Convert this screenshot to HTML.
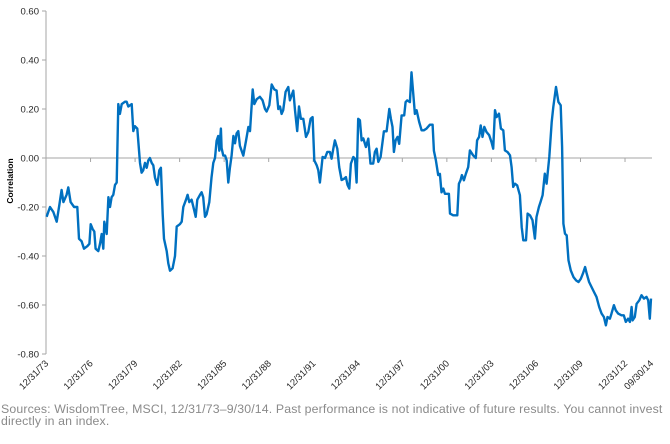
<!DOCTYPE html>
<html><head><meta charset="utf-8">
<style>
body{margin:0;background:#fff;width:670px;height:444px;overflow:hidden;font-family:"Liberation Sans",sans-serif}
svg text{font-family:"Liberation Sans",sans-serif}
.foot{position:absolute;left:1px;top:403px;font-size:12.3px;color:#8a8a8a;line-height:12px;letter-spacing:0.15px;white-space:nowrap}
</style></head>
<body>
<svg id="chart" width="670" height="444" style="position:absolute;left:0;top:0"></svg>
<div class="foot">Sources: WisdomTree, MSCI, 12/31/73–9/30/14. Past performance is not indicative of future results. You cannot invest<br>directly in an index.</div>
<script>
// t = years since 12/31/73
const times=[0.04,0.27,0.49,0.72,0.90,1.05,1.17,1.39,1.50,1.66,1.89,2.11,2.22,2.40,2.56,2.78,2.92,3.01,3.14,3.25,3.34,3.52,3.64,3.75,3.86,3.93,4.09,4.20,4.31,4.42,4.53,4.65,4.76,4.87,4.98,5.10,5.32,5.43,5.54,5.77,5.88,5.99,6.15,6.33,6.44,6.55,6.67,6.78,6.89,7.00,7.12,7.23,7.34,7.50,7.63,7.74,7.86,7.95,8.13,8.24,8.35,8.53,8.69,8.80,9.02,9.14,9.25,9.43,9.54,9.65,9.81,9.97,10.08,10.19,10.37,10.48,10.59,10.71,10.82,11.00,11.15,11.27,11.38,11.49,11.60,11.67,11.78,11.83,11.94,12.06,12.17,12.28,12.39,12.50,12.62,12.73,12.84,12.95,13.06,
13.29,13.47,13.63,13.74,13.92,14.03,14.19,14.41,14.59,14.75,14.86,15.04,15.20,15.38,15.53,15.65,15.76,15.87,15.98,16.14,16.32,16.43,16.66,16.77,16.92,17.04,17.17,17.33,17.51,17.67,17.82,17.96,18.07,18.23,18.34,18.45,18.63,18.79,18.95,19.12,19.24,19.35,19.46,19.62,19.75,19.91,20.07,20.20,20.31,20.43,20.54,20.70,20.81,20.92,21.03,21.14,21.26,21.37,21.55,21.71,21.86,22.04,22.15,22.27,22.38,22.54,22.65,22.76,22.94,23.12,23.23,23.34,23.43,23.55,23.68,23.79,23.95,24.13,24.22,24.33,24.51,24.62,24.74,24.85,24.96,25.14,25.30,25.45,25.63,25.86,26.04,26.13,26.26,26.42,26.53,26.64,26.76,26.87,26.98,27.14,
27.21,27.43,27.70,27.81,27.92,28.01,28.15,28.28,28.44,28.55,28.77,28.95,29.04,29.17,29.28,29.40,29.52,29.67,29.85,30.01,30.12,30.24,30.35,30.51,30.64,30.80,30.91,31.09,31.25,31.36,31.47,31.59,31.74,31.92,32.04,32.15,32.33,32.44,32.60,32.77,32.93,33.04,33.20,33.31,33.45,33.60,33.72,33.90,34.06,34.17,34.35,34.51,34.67,34.76,34.85,34.96,35.07,35.19,35.35,35.53,35.71,35.87,36.02,36.16,36.31,36.42,36.58,36.75,36.91,37.08,37.26,37.42,37.58,37.71,37.82,37.98,38.09,38.25,38.38,38.54,38.76,38.92,39.05,39.21,39.33,39.44,39.51,39.66,39.78,39.96,40.11,40.27,40.45,40.56,40.67,40.75];
const correlation=[-0.24,-0.20,-0.22,-0.26,-0.19,-0.13,-0.18,-0.15,-0.12,-0.18,-0.20,-0.20,-0.33,-0.34,-0.37,-0.36,-0.35,-0.27,-0.29,-0.30,-0.37,-0.38,-0.35,-0.31,-0.37,-0.26,-0.31,-0.16,-0.20,-0.16,-0.15,-0.11,-0.10,0.22,0.18,0.22,0.23,0.23,0.21,0.22,0.11,0.13,0.12,-0.02,-0.06,-0.05,-0.02,-0.04,-0.01,0.00,-0.02,-0.03,-0.08,-0.11,-0.05,-0.04,-0.23,-0.33,-0.38,-0.43,-0.46,-0.45,-0.40,-0.28,-0.27,-0.26,-0.20,-0.17,-0.15,-0.18,-0.17,-0.21,-0.24,-0.17,-0.15,-0.14,-0.16,-0.24,-0.23,-0.18,-0.08,-0.02,0.00,0.07,0.09,0.03,0.12,0.04,0.01,0.01,-0.01,-0.10,-0.04,0.01,0.09,0.06,0.10,0.11,0.05,
0.01,0.07,0.127,0.11,0.28,0.22,0.24,0.25,0.235,0.20,0.19,0.215,0.30,0.28,0.275,0.20,0.21,0.18,0.195,0.27,0.29,0.235,0.275,0.195,0.11,0.21,0.16,0.16,0.086,0.106,0.16,0.167,-0.01,-0.03,-0.05,-0.10,0.004,0.0,0.025,0.025,-0.003,0.038,0.072,0.038,-0.037,-0.09,-0.085,-0.078,-0.11,-0.125,-0.023,0.004,-0.003,-0.10,0.16,0.154,0.072,0.08,0.045,0.079,-0.023,-0.023,0.025,0.038,-0.016,0.004,0.058,0.109,0.109,0.20,0.16,0.127,0.025,0.072,0.086,0.058,0.174,0.174,0.228,0.235,0.228,0.35,0.26,0.18,0.195,0.147,0.113,0.113,0.12,0.136,0.136,0.03,-0.01,-0.07,-0.065,-0.14,-0.125,-0.146,-0.146,-0.146,
-0.227,-0.234,-0.234,-0.105,-0.091,-0.07,-0.091,-0.064,-0.037,0.031,0.011,0.0,0.072,0.086,0.133,0.086,0.127,0.106,0.093,0.065,0.038,0.195,0.167,0.181,0.12,0.113,0.031,0.024,0.011,-0.037,-0.118,-0.105,-0.112,-0.152,-0.282,-0.336,-0.336,-0.227,-0.234,-0.254,-0.329,-0.241,-0.20,-0.18,-0.152,-0.064,-0.105,0.004,0.147,0.208,0.29,0.229,0.215,0.045,-0.268,-0.309,-0.316,-0.418,-0.459,-0.486,-0.50,-0.506,-0.493,-0.472,-0.445,-0.472,-0.506,-0.527,-0.547,-0.567,-0.608,-0.635,-0.649,-0.683,-0.649,-0.656,-0.635,-0.601,-0.622,-0.635,-0.642,-0.642,-0.669,-0.656,-0.669,-0.608,-0.663,-0.649,-0.595,-0.581,-0.56,-0.574,-0.567,-0.581,-0.656,-0.574];
const yTicks=[0.6,0.4,0.2,0,-0.2,-0.4,-0.6,-0.8];
const xTickTimes=[0,3,6,9,12,15,18,21,24,27,30,33,36,39,40.75];
const xTickLabels=["12/31/73","12/31/76","12/31/79","12/31/82","12/31/85","12/31/88","12/31/91","12/31/94","12/31/97","12/31/00","12/31/03","12/31/06","12/31/09","12/31/12","09/30/14"];

const NS="http://www.w3.org/2000/svg";
const svg=document.getElementById('chart');
const X0=46,X1=651,Ytop=11,Ybot=354;
const xs=t=>X0+(t-0)/(40.75)*(X1-X0);
const ys=v=>Ytop+(0.6-v)/(1.4)*(Ybot-Ytop);
function mk(tag,attrs){const e=document.createElementNS(NS,tag);for(const k in attrs)e.setAttribute(k,attrs[k]);svg.appendChild(e);return e;}

const yAxis=mk('line',{x1:X0,y1:Ytop,x2:X0,y2:Ybot,stroke:'#a6a6a6','stroke-width':1});


yTicks.forEach(v=>{
  const tk=mk('line',{x1:X0-4,y1:ys(v),x2:X0,y2:ys(v),stroke:'#a6a6a6','stroke-width':1});
  
  
  const tx=mk('text',{x:X0-7,y:ys(v)+3.5,'text-anchor':'end','font-size':'9.5',fill:'#262626'});
  tx.textContent=v.toFixed(2);
  
  
});
const z=ys(0);
const xAxis=mk('line',{x1:X0,y1:z,x2:X1+1,y2:z,stroke:'#a6a6a6','stroke-width':1});


xTickTimes.forEach((t,i)=>{
  const x=xs(t);
  if(i>0&&i<xTickTimes.length-1){
    const tk=mk('line',{x1:x,y1:z,x2:x,y2:z+4,stroke:'#a6a6a6','stroke-width':1});
    
    
  }
  const tx=mk('text',{x:x+3,y:364,'text-anchor':'end','font-size':'9.5',fill:'#262626',transform:`rotate(-45 ${x+3} 364)`});
  tx.textContent=xTickLabels[i];
  
  
});
const yt=mk('text',{x:13,y:181,'text-anchor':'middle','font-size':'8.5','font-weight':'bold',fill:'#000',transform:'rotate(-90 13 181)'});
yt.textContent='Correlation';



const d=times.map((t,i)=>(i?'L':'M')+xs(t).toFixed(1)+' '+ys(correlation[i]).toFixed(1)).join(' ');
const line=mk('path',{d:d,fill:'none',stroke:'#0070c0','stroke-width':2.4,'stroke-linejoin':'round'});


</script>
</body></html>
